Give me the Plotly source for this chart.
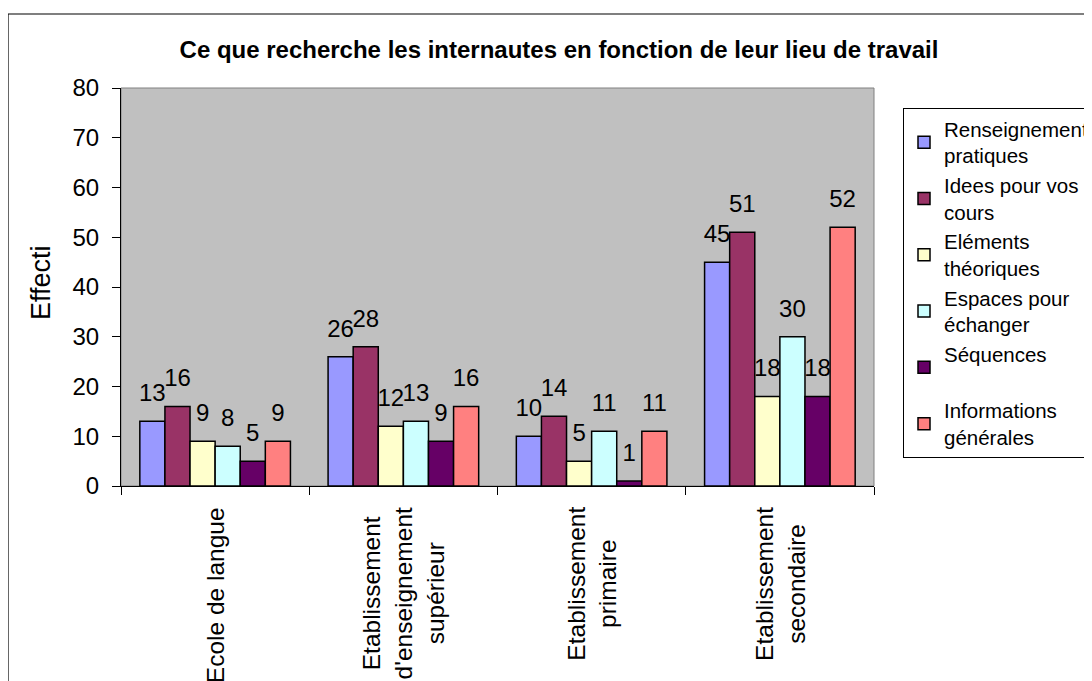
import plotly.graph_objects as go

# ---- data ----
categories = ["Ecole de langue",
              "Etablissement d'enseignement supérieur",
              "Etablissement primaire",
              "Etablissement secondaire"]
category_labels = ["Ecole de langue",
                   "Etablissement<br>d'enseignement<br>supérieur",
                   "Etablissement<br>primaire",
                   "Etablissement<br>secondaire"]
series_names = ["Renseignements<br>pratiques",
                "Idees pour vos<br>cours",
                "Eléments<br>théoriques",
                "Espaces pour<br>échanger",
                "Séquences<br>&nbsp;",
                "Informations<br>générales"]
renseignements = [13, 26, 10, 45]
idees = [16, 28, 14, 51]
elements = [9, 12, 5, 18]
espaces = [8, 13, 11, 30]
sequences = [5, 9, 1, 18]
informations = [9, 16, 11, 52]
series_values = [renseignements, idees, elements, espaces, sequences, informations]
colors = ["#9999FF", "#993366", "#FFFFCC", "#CCFFFF", "#660066", "#FF8080"]
y_ticks = [0, 10, 20, 30, 40, 50, 60, 70, 80]

title_text = "Ce que recherche les internautes en fonction de leur lieu de travail"
y_title = "Effecti"

# ---- layout geometry (page body has an 8px margin) ----
OFF = 8
W, H = 1092, 681
L = 121 - OFF
T = 88 - OFF
B = H - (486 - OFF)
R = W - (874 - OFF)
PW, PH = W - L - R, H - T - B
FONT = "Liberation Sans, Arial, sans-serif"


def px_x(p):
    return (p - OFF - L) / PW


def px_y(p):
    return (H - B - (p - OFF)) / PH


fig = go.Figure()

for name, vals, col in zip(series_names, series_values, colors):
    fig.add_trace(go.Bar(
        x=categories, y=vals, name=name,
        marker=dict(color=col, line=dict(color="black", width=1.5)),
        hoverinfo="skip",
    ))

# value labels, grouped like the bars
for name, vals in zip(series_names, series_values):
    fig.add_trace(go.Scatter(
        x=categories, y=vals, mode="markers+text",
        text=[str(v) for v in vals], textposition="top center",
        textfont=dict(family=FONT, size=24, color="black"),
        marker=dict(size=21, opacity=0),
        showlegend=False, hoverinfo="skip", cliponaxis=False,
    ))

annotations = []
for cat, lab in zip(categories, category_labels):
    annotations.append(dict(
        x=cat, xref="x", y=0, yref="paper", yanchor="top", xanchor="center",
        yshift=-19, text=lab, textangle=-90, showarrow=False, align="center",
        font=dict(family=FONT, size=24.5, color="black"),
    ))
annotations.append(dict(
    x=px_x(41), xref="paper", y=px_y(283), yref="paper",
    text=y_title, textangle=-90, showarrow=False,
    xanchor="center", yanchor="middle",
    font=dict(family=FONT, size=27, color="black"),
))

shapes = [
    # plot-area border (gray)
    dict(type="rect", xref="paper", yref="paper", x0=0, x1=1, y0=0, y1=1,
         line=dict(color="#808080", width=1), layer="below"),
    # outer chart border
    dict(type="rect", xref="paper", yref="paper",
         x0=px_x(8), x1=px_x(1130), y0=px_y(730), y1=px_y(14),
         line=dict(color="black", width=1.2), layer="below"),
]

fig.update_layout(
    width=W, height=H,
    margin=dict(l=L, r=R, t=T, b=B, autoexpand=False),
    paper_bgcolor="white", plot_bgcolor="#C0C0C0",
    barmode="group", bargap=0.2, bargroupgap=0,
    scattermode="group", scattergap=0.2,
    title=dict(text="<b>" + title_text + "</b>", x=(559 - OFF) / W,
               xanchor="center", y=1 - (50 - OFF) / H, yanchor="middle",
               font=dict(family=FONT, size=24, color="black")),
    font=dict(family=FONT, color="black"),
    showlegend=True,
    legend=dict(x=px_x(903), xanchor="left", y=px_y(108), yanchor="top",
                bgcolor="white", bordercolor="black", borderwidth=1,
                font=dict(family=FONT, size=20.5, color="black"),
                traceorder="normal", itemclick=False),
    annotations=annotations,
    shapes=shapes,
)
fig.update_xaxes(
    type="category", showticklabels=False, showgrid=False,
    showline=True, linecolor="black", linewidth=1,
    ticks="outside", ticklen=8, tickcolor="black", tickson="boundaries",
    zeroline=False,
)
fig.update_yaxes(
    range=[0, 80], tickvals=y_ticks, showgrid=False,
    showline=True, linecolor="black", linewidth=1,
    ticks="outside", ticklen=8, tickcolor="black", ticklabelstandoff=8,
    tickfont=dict(family=FONT, size=24, color="black"),
    zeroline=False,
)

fig.write_html("out.html")
